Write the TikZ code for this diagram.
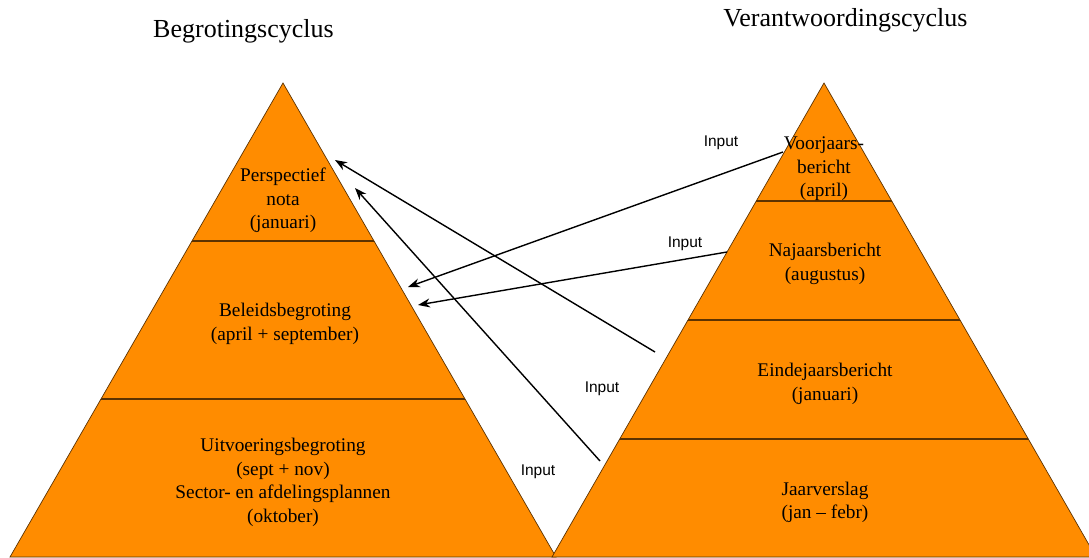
\documentclass[tikz,border=0pt]{standalone}
\usepackage{fontspec}
\setmainfont{Liberation Serif}
\newfontfamily\labelsans{Liberation Sans}
\usetikzlibrary{arrows.meta}
\definecolor{pyrfill}{HTML}{FF8C00}
\definecolor{pyrline}{HTML}{5C3200}

\begin{document}
\begin{tikzpicture}[x=1pt,y=-1pt,
  layertext/.style={font=\fontsize{19.3}{23.6}\selectfont, align=center, inner sep=0pt},
  cycletitle/.style={font=\fontsize{26}{30}\selectfont, anchor=base, inner sep=0pt},
  inlabel/.style={font=\labelsans\fontsize{15.5}{18}\selectfont, inner sep=0pt},
  feed/.style={line width=1.4pt, -{Stealth[length=12pt,width=9pt]}},
  divider/.style={draw=pyrline, line width=1.6pt},
  outline/.style={draw=pyrline, line width=0.7pt}]
\useasboundingbox (0,0) rectangle (1089,557);

\begin{scope}
  \clip (0,0) rectangle (1089,557);
  % budget pyramid
  \begin{scope}
    \clip (283,83) -- (556,557) -- (10,557) -- cycle;
    \fill[pyrfill] (0,0) rectangle (600,600);
    \draw[divider] (0,241) -- (600,241) (0,399) -- (600,399);
  \end{scope}
  \draw[outline] (283,83) -- (556,557) -- (10,557) -- cycle;
  % accountability pyramid
  \begin{scope}
    \clip (824,83) -- (1096,557) -- (552,557) -- cycle;
    \fill[pyrfill] (540,0) rectangle (1100,600);
    \draw[divider] (540,201) -- (1100,201) (540,320) -- (1100,320) (540,439) -- (1100,439);
  \end{scope}
  \draw[outline] (824,83) -- (1096,557) -- (552,557) -- cycle;
\end{scope}

% titles
\node[cycletitle] (begr) at (243.5,37) {Begrotingscyclus};
\node[cycletitle] (verant) at (845.5,26) {Verantwoordingscyclus};

% budget layers
\node[layertext] (persp) at (283,200.5) {Perspectief\\nota\\(januari)};
\node[layertext] (beleid) at (285,324) {Beleidsbegroting\\(april + september)};
\node[layertext] (uitv) at (283,482.5) {Uitvoeringsbegroting\\(sept + nov)\\Sector- en afdelingsplannen\\(oktober)};

% accountability layers
\node[layertext] (voorj) at (824,169) {Voorjaars-\\bericht\\(april)};
\node[layertext] (najaar) at (825,264) {Najaarsbericht\\(augustus)};
\node[layertext] (eindej) at (825,384) {Eindejaarsbericht\\(januari)};
\node[layertext] (jaarv) at (825,502.5) {Jaarverslag\\(jan -- febr)};

% input labels
\node[inlabel] (in1) at (721,142.5) {Input};
\node[inlabel] (in2) at (685,243.5) {Input};
\node[inlabel] (in3) at (602,388.5) {Input};
\node[inlabel] (in4) at (538,471.5) {Input};

% feedback arrows
\coordinate (voorjS) at (783,152);
\coordinate (beleidT1) at (408,287);
\coordinate (najaarS) at (727,252);
\coordinate (beleidT2) at (418,305);
\coordinate (eindejS) at (655,352);
\coordinate (perspT1) at (335,160);
\coordinate (jaarvS) at (600,461);
\coordinate (perspT2) at (355,188);

\draw[feed] (voorjS) -- (beleidT1);
\draw[feed] (najaarS) -- (beleidT2);
\draw[feed] (eindejS) -- (perspT1);
\draw[feed] (jaarvS) -- (perspT2);
\end{tikzpicture}
\end{document}
